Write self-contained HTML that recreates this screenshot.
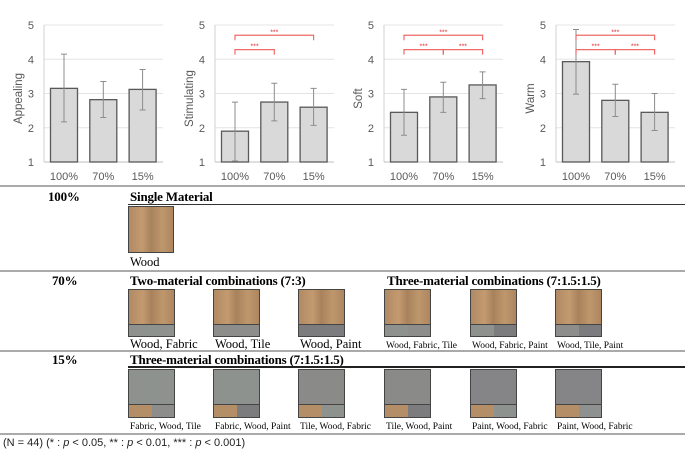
<!DOCTYPE html>
<html><head><meta charset="utf-8"><style>
body{margin:0;background:#fff;width:685px;height:454px;overflow:hidden;position:relative;font-family:"Liberation Serif",serif}
.a{position:absolute;white-space:nowrap}
.b{font-weight:bold;font-size:13px;letter-spacing:-0.2px}
.hl{position:absolute;height:2px;background:#aaa}
.sw{position:absolute;border:1px solid #444;box-sizing:border-box;overflow:hidden}
.sw div{position:absolute}
.lg{font-size:12.5px;line-height:14px}.sm{font-size:9.5px;line-height:11px}
</style></head><body>
<svg id="ch" width="685" height="185" style="position:absolute;left:0;top:0" font-family="Liberation Sans, sans-serif"></svg>

<div class="hl" style="left:0;top:185px;width:685px"></div>
<div class="a b" style="left:48px;top:189px">100%</div>
<div class="a b" style="left:130px;top:189px">Single Material</div>
<div class="a" style="left:128px;top:204px;width:557px;height:1px;background:#333"></div>
<div class="sw" style="left:128px;top:206px;width:46px;height:47px"><div style="inset:0;background:linear-gradient(90deg,#b08a64,#c49a70 30%,#a8825c 50%,#bf976c 75%,#ad8660)"></div></div>
<div class="a lg" style="left:130px;top:255px">Wood</div>
<div class="hl" style="left:0;top:270px;width:685px"></div>

<div class="a b" style="left:52px;top:273px">70%</div>
<div class="a b" style="left:130px;top:273px">Two-material combinations (7:3)</div>
<div class="a b" style="left:387px;top:273px">Three-material combinations (7:1.5:1.5)</div>
<div id="r70"></div>
<div class="hl" style="left:0;top:350px;width:685px"></div>

<div class="a b" style="left:52px;top:352px">15%</div>
<div class="a b" style="left:130px;top:352px">Three-material combinations (7:1.5:1.5)</div>
<div class="a" style="left:128px;top:366px;width:557px;height:2px;background:#222"></div>
<div id="r15"></div>
<div class="hl" style="left:0;top:433px;width:685px"></div>
<div class="a" style="left:3px;top:437px;font-family:'Liberation Sans',sans-serif;font-size:11px;color:#222">(N = 44) (* : <i>p</i> &lt; 0.05, ** : <i>p</i> &lt; 0.01, *** : <i>p</i> &lt; 0.001)</div>

<script>
const categories=["100%","70%","15%"];
const titles=["Appealing","Stimulating","Soft","Warm"];
const means=[[3.15,2.82,3.12],[1.9,2.75,2.6],[2.45,2.9,3.25],[3.93,2.8,2.45]];
const errLow=[[2.17,2.3,2.52],[1.03,2.2,2.07],[1.78,2.45,2.85],[2.98,2.33,1.92]];
const errHigh=[[4.15,3.35,3.7],[2.75,3.3,3.15],[3.12,3.33,3.63],[4.87,3.27,3.0]];
const ticks=[1,2,3,4,5];
const sigs=[[],[[0,2,4.7],[0,1,4.28]],[[0,2,4.7],[0,1,4.28],[1,2,4.28]],[[0,2,4.7],[0,1,4.28],[1,2,4.28]]];
const axX=[44,215,384,556];
const NS="http://www.w3.org/2000/svg";
const svg=document.getElementById('ch');
function mk(t,a,p){const e=document.createElementNS(NS,t);for(const k in a)e.setAttribute(k,a[k]);(p||svg).appendChild(e);return e;}
const y=v=>162-(v-1)*34.25;
titles.forEach((ti,c)=>{
  const x0=axX[c],W=119;
  const xc=i=>x0+20+i*39.3;
  const g=mk('g',{});
  
  
  ticks.forEach(t=>{
    if(t>1){const l=mk('line',{x1:x0,x2:x0+W,y1:y(t),y2:y(t),stroke:'#e4e4e4','stroke-width':1},g);}
    const tx=mk('text',{x:x0-10,y:y(t)+4,'text-anchor':'end','font-size':11,fill:'#595959'},g);tx.textContent=t;
    
  });
  mk('line',{x1:x0,x2:x0,y1:y(5),y2:y(1),stroke:'#d0d0d0'},g);
  mk('line',{x1:x0,x2:x0+W,y1:y(1),y2:y(1),stroke:'#bfbfbf'},g);
  const yt=mk('text',{transform:`translate(${x0-22},${(y(5)+y(1))/2+5}) rotate(-90)`,'text-anchor':'middle','font-size':11.5,fill:'#595959'},g);yt.textContent=ti;
  
  categories.forEach((cat,i)=>{
    const b=mk('rect',{x:xc(i)-13.5,y:y(means[c][i]),width:27,height:y(1)-y(means[c][i]),fill:'#d9d9d9',stroke:'#595959','stroke-width':1.3},g);
    
    const e=mk('path',{d:`M${xc(i)} ${y(errLow[c][i])}V${y(errHigh[c][i])}M${xc(i)-3} ${y(errLow[c][i])}h6M${xc(i)-3} ${y(errHigh[c][i])}h6`,stroke:'#8c8c8c','stroke-width':1,fill:'none'},g);
    
    const t=mk('text',{x:xc(i),y:180,'text-anchor':'middle','font-size':11,fill:'#595959'},g);t.textContent=cat;
    
  });
  sigs[c].forEach(s=>{
    const a=xc(s[0]),b=xc(s[1]),yy=y(s[2]);
    const p=mk('path',{d:`M${a} ${yy+5}V${yy}H${b}V${yy+5}`,stroke:'#f06a6a','stroke-width':1.2,fill:'none'},g);
    
    const t=mk('text',{x:(a+b)/2,y:yy-1,'text-anchor':'middle','font-size':7,fill:'#e03030'},g);t.textContent='***';
    
  });
});
const WOOD='linear-gradient(90deg,#b08a64,#c49a70 30%,#a8825c 50%,#bf976c 75%,#ad8660)';
const WOODS='#b48e66';
const FAB='#8e928f',TILE='#8d8d8b',PAINT='#7c7c7e',GR='#8f9190';
function sw(parent,x,top,h,main,a,b,label,cls,name){
  const d=document.createElement('div');d.className='sw';
  d.style.cssText=`left:${x}px;top:${top}px;width:47px;height:${h}px`;
  
  
  const split=Math.round(h*0.7);
  d.innerHTML=`<div style="left:0;top:0;right:0;height:${split}px;background:${main}"></div>`+
   (b?`<div style="left:0;top:${split}px;width:23px;bottom:0;background:${a};border-top:1px solid #444;border-right:1px solid #444"></div><div style="left:23px;top:${split}px;right:0;bottom:0;background:${b};border-top:1px solid #444"></div>`
     :`<div style="left:0;top:${split}px;right:0;bottom:0;background:${a};border-top:1px solid #444"></div>`);
  parent.appendChild(d);
  const l=document.createElement('div');l.className='a '+cls;l.textContent=label;
  l.style.left=(x+2)+'px';l.style.top=(top+h+(cls=='lg'?0:4))+'px';
  
  
  parent.appendChild(l);
}
const xs=[128,213,298,384,470,555];
const r70=document.getElementById('r70'),r15=document.getElementById('r15');
sw(r70,xs[0],289,48,WOOD,FAB,null,'Wood, Fabric','lg','wood-fabric');
sw(r70,xs[1],289,48,WOOD,TILE,null,'Wood, Tile','lg','wood-tile');
sw(r70,xs[2],289,48,WOOD,PAINT,null,'Wood, Paint','lg','wood-paint');
sw(r70,xs[3],289,48,WOOD,FAB,TILE,'Wood, Fabric, Tile','sm','wood-fabric-tile');
sw(r70,xs[4],289,48,WOOD,FAB,PAINT,'Wood, Fabric, Paint','sm','wood-fabric-paint');
sw(r70,xs[5],289,48,WOOD,TILE,PAINT,'Wood, Tile, Paint','sm','wood-tile-paint');
sw(r15,xs[0],369,49,FAB,WOODS,TILE,'Fabric, Wood, Tile','sm','fabric-wood-tile');
sw(r15,xs[1],369,49,FAB,WOODS,PAINT,'Fabric, Wood, Paint','sm','fabric-wood-paint');
sw(r15,xs[2],369,49,'#8a8a88',WOODS,FAB,'Tile, Wood, Fabric','sm','tile-wood-fabric');
sw(r15,xs[3],369,49,'#8a8a88',WOODS,PAINT,'Tile, Wood, Paint','sm','tile-wood-paint');
sw(r15,xs[4],369,49,'#858587',WOODS,FAB,'Paint, Wood, Fabric','sm','paint-wood-fabric');
sw(r15,xs[5],369,49,'#858587',WOODS,GR,'Paint, Wood, Fabric','sm','paint-wood-fabric-2');
</script>
</body></html>
